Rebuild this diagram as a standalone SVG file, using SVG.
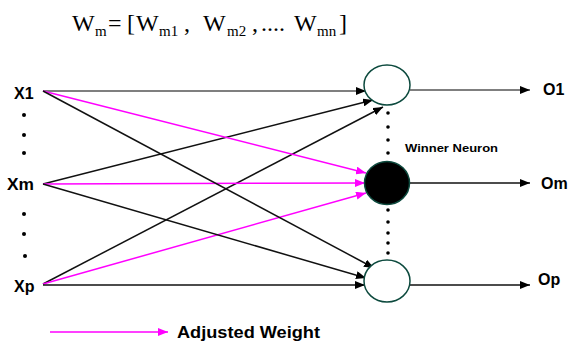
<svg xmlns="http://www.w3.org/2000/svg" width="569" height="341" viewBox="0 0 569 341">
<defs>
<marker id="ab" viewBox="0 0 10 8" refX="10" refY="4" markerWidth="10" markerHeight="8" markerUnits="userSpaceOnUse" orient="auto"><path d="M0,0 L10,4 L0,8 z" fill="#000"/></marker>
<marker id="am" viewBox="0 0 10 8" refX="10" refY="4" markerWidth="10" markerHeight="8" markerUnits="userSpaceOnUse" orient="auto"><path d="M0,0 L10,4 L0,8 z" fill="#ff00ff"/></marker>
</defs>
<style>
.b{stroke:#111;stroke-width:1.5;fill:none;marker-end:url(#ab)}
.g{stroke:#555;stroke-width:1.5;fill:none;marker-end:url(#ab)}
.m{stroke:#ff00ff;stroke-width:1.5;fill:none;marker-end:url(#am)}
.lbl{font-family:"Liberation Sans",Arial,sans-serif;font-size:16px;font-weight:bold;fill:#000}
.t{font-family:"Liberation Serif","Times New Roman",serif;fill:#000;font-size:24px}
.s{font-size:15px}
.dot{fill:#000}
.neuron{stroke:#0d4a3e;stroke-width:1.5}
</style>
<rect width="569" height="341" fill="#fff"/>
<g id="title">
<text class="t" y="31"><tspan x="72">W</tspan><tspan class="s" x="95" y="36">m</tspan><tspan x="108" y="31">=</tspan><tspan x="127">[</tspan><tspan x="136">W</tspan><tspan class="s" x="159" y="36">m1</tspan><tspan x="184" y="31">,</tspan><tspan x="203">W</tspan><tspan class="s" x="227" y="36">m2</tspan><tspan x="252" y="31">,</tspan><tspan x="261">....</tspan><tspan x="294">W</tspan><tspan class="s" x="317" y="36">mn</tspan><tspan x="339" y="31">]</tspan></text>
</g>
<g id="connectors">
<line class="g" x1="43" y1="91" x2="366" y2="91"/>
<line class="b" x1="43" y1="184" x2="373" y2="100"/>
<line class="b" x1="43" y1="284" x2="383" y2="107"/>
<line class="m" x1="43" y1="91" x2="366" y2="173"/>
<line class="m" x1="43" y1="184" x2="365" y2="183"/>
<line class="m" x1="43" y1="284" x2="366" y2="193"/>
<line class="b" x1="43" y1="91" x2="374" y2="268"/>
<line class="b" x1="43" y1="184" x2="366" y2="278"/>
<line class="b" x1="43" y1="285" x2="365" y2="285"/>
<line class="g" x1="410" y1="90" x2="530" y2="90"/>
<line class="b" x1="410" y1="183" x2="530" y2="183"/>
<line class="b" x1="410" y1="285" x2="530" y2="285"/>
</g>
<g id="input-x1"><text class="lbl" x="14" y="99">X1</text></g>
<g id="input-xm"><text class="lbl" x="7" y="190" textLength="27" lengthAdjust="spacingAndGlyphs">Xm</text></g>
<g id="input-xp"><text class="lbl" x="14" y="292">Xp</text></g>
<g id="input-dots">
<circle class="dot" cx="24" cy="115" r="2"/><circle class="dot" cx="24" cy="135" r="2"/><circle class="dot" cx="24" cy="153" r="2"/>
<circle class="dot" cx="24" cy="214" r="2"/><circle class="dot" cx="24" cy="234" r="2"/><circle class="dot" cx="25" cy="256" r="2"/>
</g>
<g id="neuron-1"><ellipse class="neuron" cx="387" cy="85" rx="23" ry="20" fill="#fff"/></g>
<g id="neuron-m"><ellipse class="neuron" cx="387" cy="183" rx="22.5" ry="21.5" fill="#000"/></g>
<g id="neuron-p"><ellipse class="neuron" cx="387" cy="281" rx="23" ry="21" fill="#fff"/></g>
<g id="neuron-dots">
<circle class="dot" cx="388" cy="113" r="1.8"/><circle class="dot" cx="388" cy="127" r="1.8"/><circle class="dot" cx="388" cy="140" r="1.8"/><circle class="dot" cx="388" cy="153" r="1.8"/>
<circle class="dot" cx="388" cy="210" r="1.8"/><circle class="dot" cx="388" cy="222" r="1.8"/><circle class="dot" cx="388" cy="233" r="1.8"/><circle class="dot" cx="388" cy="243" r="1.8"/><circle class="dot" cx="388" cy="253" r="1.8"/>
</g>
<g id="winner-label"><text x="405" y="152" font-family="'Liberation Sans',Arial,sans-serif" font-size="10.5" font-weight="bold" fill="#000" textLength="93" lengthAdjust="spacingAndGlyphs">Winner Neuron</text></g>
<g id="output-o1"><text class="lbl" x="543" y="95">O1</text></g>
<g id="output-om"><text class="lbl" x="541" y="189">Om</text></g>
<g id="output-op"><text class="lbl" x="538" y="285">Op</text></g>
<g id="legend">
<line class="m" x1="50" y1="332" x2="168" y2="332"/>
<text x="177" y="338" font-family="'Liberation Sans',Arial,sans-serif" font-size="16" font-weight="bold" fill="#000" textLength="143" lengthAdjust="spacingAndGlyphs">Adjusted Weight</text>
</g>
</svg>
